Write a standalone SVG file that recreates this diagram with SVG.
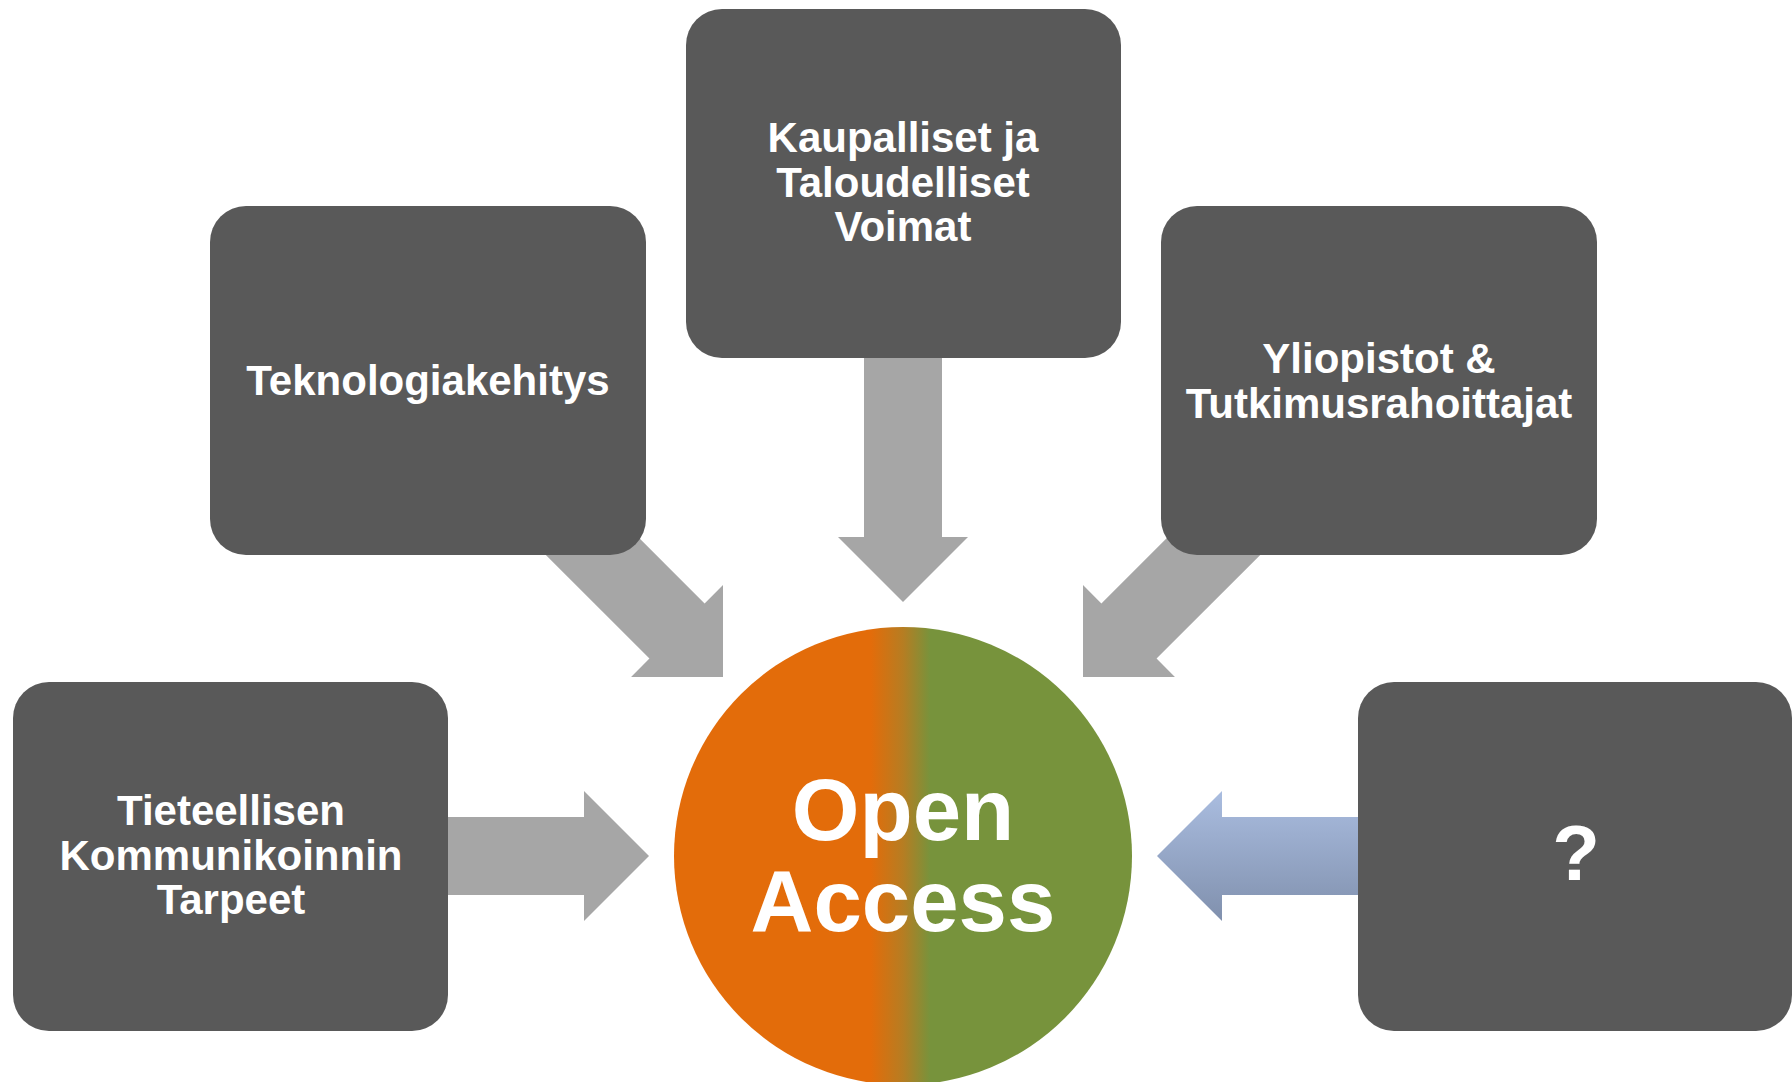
<svg xmlns="http://www.w3.org/2000/svg" width="1792" height="1082" viewBox="0 0 1792 1082">
  <defs>
    <linearGradient id="oaGrad" x1="0" y1="0" x2="1" y2="0">
      <stop offset="0" stop-color="#E36C0A"/>
      <stop offset="0.43" stop-color="#E36C0A"/>
      <stop offset="0.5" stop-color="#B67D22"/>
      <stop offset="0.56" stop-color="#77933C"/>
      <stop offset="1" stop-color="#77933C"/>
    </linearGradient>
    <linearGradient id="blueGrad" x1="0" y1="0" x2="0" y2="1">
      <stop offset="0" stop-color="#AABDE0"/>
      <stop offset="1" stop-color="#8090AD"/>
    </linearGradient>
    <path id="arrowShape" d="M0,0 L-65,-65 L-65,-39 L-260,-39 L-260,39 L-65,39 L-65,65 Z"/>
    <style>
      .box { fill: #595959; }
      .arrow { fill: #A6A6A6; }
      .lbl { font-family: "Liberation Sans", Arial, sans-serif; font-weight: bold; font-size: 42px; fill: #FFFFFF; text-anchor: middle; }
      .big { font-family: "Liberation Sans", Arial, sans-serif; font-weight: bold; font-size: 87px; fill: #FFFFFF; text-anchor: middle; }
    </style>
  </defs>
  <rect width="1792" height="1082" fill="#FFFFFF"/>

  <g id="connectors">
    <use href="#arrowShape" class="arrow" transform="translate(649,856)"/>
    <use href="#arrowShape" class="arrow" transform="translate(903,602) rotate(90)"/>
    <use href="#arrowShape" class="arrow" transform="translate(723,677) rotate(45)"/>
    <use href="#arrowShape" class="arrow" transform="translate(1083,677) rotate(135)"/>
    <path d="M1157,856 L1222,791 L1222,817 L1417,817 L1417,895 L1222,895 L1222,921 Z" fill="url(#blueGrad)"/>
  </g>

  <g id="node-open-access">
    <circle cx="903" cy="856" r="229" fill="url(#oaGrad)"/>
    <text class="big" x="903" y="840">Open</text>
    <text class="big" x="903" y="931">Access</text>
  </g>

  <g id="node-kaupalliset">
    <rect class="box" x="686" y="9" width="435" height="349" rx="36" ry="36"/>
    <text class="lbl" x="903" y="152">Kaupalliset ja</text>
    <text class="lbl" x="903" y="197">Taloudelliset</text>
    <text class="lbl" x="903" y="241">Voimat</text>
  </g>

  <g id="node-teknologia">
    <rect class="box" x="210" y="206" width="436" height="349" rx="36" ry="36"/>
    <text class="lbl" x="428" y="395">Teknologiakehitys</text>
  </g>

  <g id="node-yliopistot">
    <rect class="box" x="1161" y="206" width="436" height="349" rx="36" ry="36"/>
    <text class="lbl" x="1379" y="373">Yliopistot &amp;</text>
    <text class="lbl" x="1379" y="418">Tutkimusrahoittajat</text>
  </g>

  <g id="node-tieteellisen">
    <rect class="box" x="13" y="682" width="435" height="349" rx="36" ry="36"/>
    <text class="lbl" x="231" y="825">Tieteellisen</text>
    <text class="lbl" x="231" y="870">Kommunikoinnin</text>
    <text class="lbl" x="231" y="914">Tarpeet</text>
  </g>

  <g id="node-question">
    <rect class="box" x="1358" y="682" width="434" height="349" rx="36" ry="36"/>
    <text class="lbl" x="1576" y="880" style="font-size:78px">?</text>
  </g>
</svg>
